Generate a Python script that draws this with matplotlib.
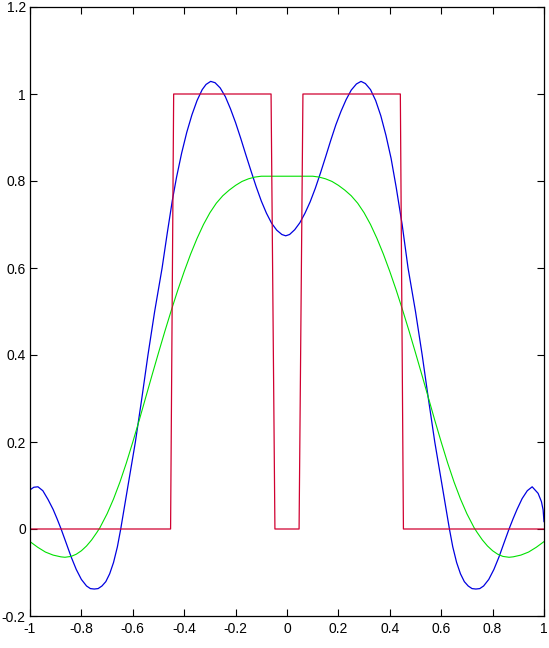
import matplotlib
matplotlib.use("Agg")
import matplotlib.pyplot as plt

# ---- data ----
red_x = [-1.0, -0.453, -0.441, -0.062, -0.047, 0.047, 0.062, 0.441, 0.453, 1.0]
red_y = [0, 0, 1, 1, 0, 0, 1, 1, 0, 0]

blue_x = [-1.000, -0.985, -0.969, -0.950, -0.930, -0.910, -0.895, -0.879, -0.860, -0.840,
          -0.820, -0.800, -0.780, -0.765, -0.750, -0.735, -0.720, -0.705, -0.690, -0.675,
          -0.660, -0.647, -0.620, -0.590, -0.565, -0.541, -0.515, -0.486, -0.466, -0.446,
          -0.430, -0.410, -0.390, -0.370, -0.350, -0.330, -0.315, -0.297, -0.280, -0.260,
          -0.240, -0.220, -0.200, -0.180, -0.160, -0.140, -0.120, -0.100, -0.080, -0.060,
          -0.040, -0.020, -0.005,
          0.010, 0.030, 0.050, 0.070, 0.090, 0.110, 0.130, 0.150, 0.170, 0.190,
          0.210, 0.230, 0.250, 0.270, 0.288, 0.305, 0.325, 0.345, 0.365, 0.385,
          0.405, 0.425, 0.448, 0.471, 0.500, 0.526, 0.550, 0.575, 0.605, 0.632,
          0.645, 0.660, 0.675, 0.690, 0.705, 0.720, 0.735, 0.750, 0.765, 0.785,
          0.805, 0.825, 0.845, 0.864, 0.880, 0.895, 0.915, 0.935, 0.954, 0.977,
          0.990, 0.9965, 1.000]
blue_y = [0.090, 0.096, 0.097, 0.088, 0.068, 0.045, 0.024, 0.000, -0.031, -0.064,
          -0.093, -0.116, -0.131, -0.137, -0.138, -0.137, -0.131, -0.121, -0.103, -0.077,
          -0.041, 0.000, 0.095, 0.200, 0.300, 0.400, 0.500, 0.600, 0.680, 0.756,
          0.808, 0.864, 0.912, 0.952, 0.985, 1.010, 1.022, 1.029, 1.026, 1.014,
          0.994, 0.966, 0.934, 0.898, 0.860, 0.823, 0.787, 0.754, 0.726, 0.703,
          0.687, 0.677, 0.674,
          0.677, 0.688, 0.704, 0.726, 0.752, 0.783, 0.818, 0.855, 0.893, 0.929,
          0.960, 0.987, 1.009, 1.023, 1.029, 1.024, 1.010, 0.985, 0.950, 0.905,
          0.852, 0.785, 0.700, 0.600, 0.500, 0.400, 0.300, 0.200, 0.095, 0.000,
          -0.041, -0.077, -0.103, -0.121, -0.131, -0.137, -0.138, -0.137, -0.131, -0.116,
          -0.093, -0.064, -0.031, 0.000, 0.024, 0.045, 0.070, 0.088, 0.097, 0.082,
          0.063, 0.044, 0.017]

green_x = [-1.000, -0.970, -0.940, -0.910, -0.880, -0.864, -0.840, -0.820, -0.800, -0.780,
           -0.760, -0.740, -0.728, -0.700, -0.675, -0.650, -0.625, -0.600, -0.575, -0.550,
           -0.525, -0.500, -0.475, -0.450, -0.425, -0.400, -0.375, -0.350, -0.325, -0.300,
           -0.275, -0.250, -0.225, -0.200, -0.175, -0.150, -0.125, -0.100, 0.000,
           0.100, 0.125, 0.150, 0.175, 0.200, 0.225, 0.250, 0.275, 0.300, 0.325,
           0.350, 0.375, 0.400, 0.425, 0.450, 0.475, 0.500, 0.525, 0.550, 0.575,
           0.600, 0.625, 0.650, 0.675, 0.700, 0.728, 0.740, 0.760, 0.780, 0.800,
           0.820, 0.840, 0.864, 0.880, 0.910, 0.940, 0.970, 1.000]
green_y = [-0.029, -0.042, -0.053, -0.060, -0.064, -0.065, -0.063, -0.058, -0.050, -0.039,
           -0.025, -0.008, 0.003, 0.035, 0.069, 0.108, 0.152, 0.200, 0.250, 0.302,
           0.354, 0.405, 0.455, 0.503, 0.549, 0.592, 0.632, 0.668, 0.700, 0.727,
           0.749, 0.766, 0.779, 0.790, 0.799, 0.805, 0.809, 0.811, 0.811,
           0.811, 0.809, 0.805, 0.799, 0.790, 0.779, 0.766, 0.749, 0.727, 0.700,
           0.668, 0.632, 0.592, 0.549, 0.503, 0.455, 0.405, 0.354, 0.302, 0.250,
           0.200, 0.152, 0.108, 0.069, 0.035, 0.003, -0.008, -0.025, -0.039, -0.050,
           -0.058, -0.063, -0.065, -0.064, -0.060, -0.053, -0.042, -0.029]

xticks = [-1, -0.8, -0.6, -0.4, -0.2, 0, 0.2, 0.4, 0.6, 0.8, 1]
xticklabels = ["-1", "-0.8", "-0.6", "-0.4", "-0.2", "0", "0.2", "0.4", "0.6", "0.8", "1"]
yticks = [-0.2, 0, 0.2, 0.4, 0.6, 0.8, 1, 1.2]
yticklabels = ["-0.2", "0", "0.2", "0.4", "0.6", "0.8", "1", "1.2"]

# ---- figure ----
plt.rcParams['font.family'] = ['Liberation Sans', 'DejaVu Sans']
fig = plt.figure(figsize=(5.49, 6.48), dpi=100, facecolor='white')
ax = fig.add_axes([30 / 549, 1 - 616 / 648, (544 - 30) / 549, (616 - 7) / 648])

ax.plot(blue_x, blue_y, color='#0000e0', lw=0.9)
ax.plot(green_x, green_y, color='#00e000', lw=0.8)
ax.plot(red_x, red_y, color='#d00030', lw=0.9)

ax.set_xlim(-1, 1)
ax.set_ylim(-0.2, 1.2)
ax.set_xticks(xticks)
ax.set_xticklabels(xticklabels)
ax.set_yticks(yticks)
ax.set_yticklabels(yticklabels)
ax.tick_params(direction='in', top=True, right=True, length=5, width=0.8,
               labelsize=10, colors='black')
ax.tick_params(axis='x', pad=4)
ax.tick_params(axis='y', pad=3)
for s in ax.spines.values():
    s.set_linewidth(0.9)
    s.set_color('black')

fig.savefig('out.png', dpi=100, facecolor='white')
